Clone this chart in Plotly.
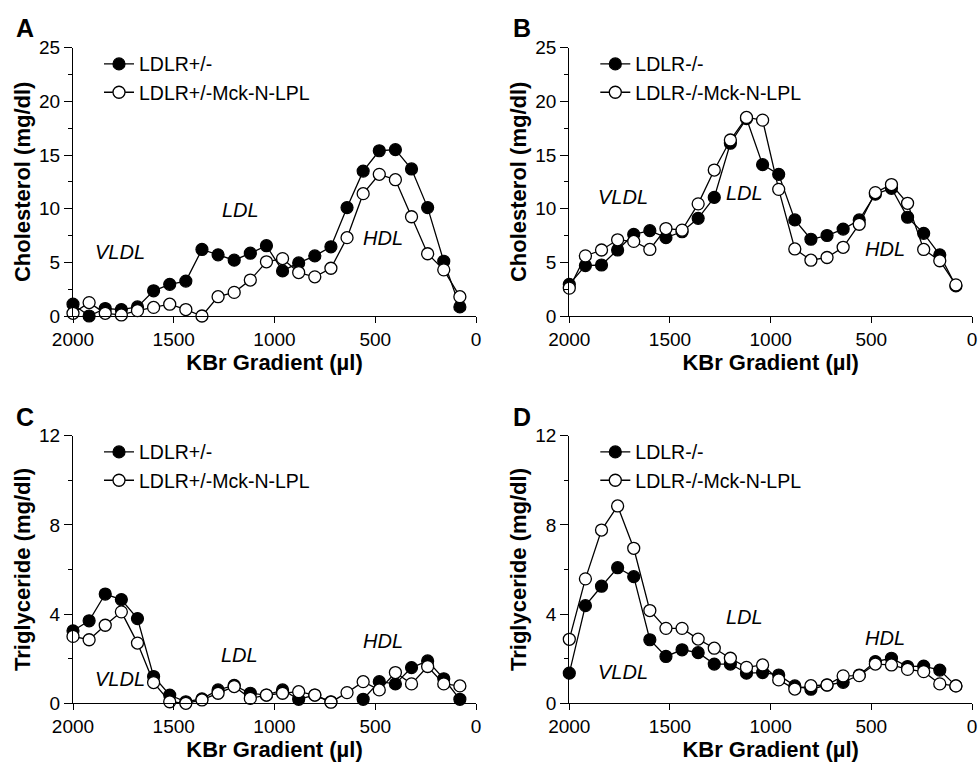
import plotly.graph_objects as go

# ---------------- data ----------------
gradient = [2000, 1920, 1840, 1760, 1680, 1600, 1520, 1440, 1360, 1280, 1200, 1120,
            1040, 960, 880, 800, 720, 640, 560, 480, 400, 320, 240, 160, 80]

chol_het = [1.1, 0.0, 0.7, 0.6, 0.85, 2.35, 2.95, 3.25, 6.2, 5.7, 5.2, 5.85,
            6.55, 4.2, 4.95, 5.6, 6.45, 10.1, 13.5, 15.4, 15.5, 13.7, 10.1, 5.1, 0.85]
chol_het_lpl = [0.25, 1.25, 0.25, 0.1, 0.5, 0.8, 1.1, 0.6, 0.0, 1.8, 2.2, 3.35,
                5.05, 5.35, 4.05, 3.65, 4.45, 7.3, 11.4, 13.2, 12.7, 9.25, 5.8, 4.3, 1.8]

chol_ko = [2.95, 4.7, 4.75, 6.15, 7.6, 7.95, 7.3, 7.85, 9.1, 11.05, 16.1, 18.4,
           14.1, 13.2, 8.95, 7.15, 7.5, 8.1, 8.95, 11.35, 11.9, 9.2, 7.7, 5.7, 2.8]
chol_ko_lpl = [2.6, 5.6, 6.15, 7.1, 6.95, 6.2, 8.15, 8.0, 10.45, 13.6, 16.4, 18.5,
               18.25, 11.8, 6.25, 5.2, 5.45, 6.4, 8.55, 11.5, 12.25, 10.5, 6.2, 5.15, 2.9]

tg_het = [3.25, 3.7, 4.9, 4.65, 3.8, 1.2, 0.37, 0.07, 0.2, 0.6, 0.8, 0.45,
          0.37, 0.6, 0.18, 0.37, 0.07, None, 0.18, 0.97, 0.87, 1.6, 1.9, 1.1, 0.18]
tg_het_lpl = [3.0, 2.85, 3.5, 4.1, 2.7, 0.93, 0.07, 0.0, 0.15, 0.45, 0.75, 0.22,
              0.37, 0.45, 0.52, 0.37, 0.05, 0.48, 0.97, 0.6, 1.38, 0.87, 1.65, 0.87, 0.78]

tg_ko = [1.35, 4.38, 5.25, 6.08, 5.68, 2.85, 2.1, 2.4, 2.27, 1.76, 1.76, 1.35,
         1.38, 1.27, 0.78, 0.63, 0.82, 0.94, 1.27, 1.87, 2.02, 1.65, 1.67, 1.49, 0.78]
tg_ko_lpl = [2.87, 5.58, 7.77, 8.85, 6.95, 4.16, 3.36, 3.36, 2.88, 2.47, 2.02, 1.61,
             1.72, 1.05, 0.64, 0.79, 0.82, 1.23, 1.24, 1.76, 1.72, 1.52, 1.42, 0.87, 0.78]

names_het = ["LDLR+/-", "LDLR+/-Mck-N-LPL"]
names_ko = ["LDLR-/-", "LDLR-/-Mck-N-LPL"]
panel_letters = ["A", "B", "C", "D"]
region_labels = ["VLDL", "LDL", "HDL"]
region_pos_A = [(1767, 5.96), (1171, 9.9), (463, 7.24)]
region_pos_B = [(1732, 11.1), (1128, 11.5), (433, 6.2)]
region_pos_C = [(1765, 1.08), (1172, 2.17), (464, 2.8)]
region_pos_D = [(1732, 1.42), (1128, 3.89), (432, 2.94)]

# ---------------- layout geometry ----------------
W, H = 979, 763
FONT = "Liberation Sans, Arial, Helvetica, sans-serif"

def px_x(p):
    return p / W

def px_y(p):
    return 1 - p / H

panels = [
    dict(xd=[px_x(73), px_x(476)], yd=[px_y(316), px_y(47.7)], yr=[0, 25], dt=5, mdt=2.5,
         title="Cholesterol (mg/dl)", series=(chol_het, chol_het_lpl), names=names_het,
         regions=region_pos_A, letter_xy=(25, 28)),
    dict(xd=[px_x(569.3), px_x(972)], yd=[px_y(316), px_y(47.7)], yr=[0, 25], dt=5, mdt=2.5,
         title="Cholesterol (mg/dl)", series=(chol_ko, chol_ko_lpl), names=names_ko,
         regions=region_pos_B, letter_xy=(522, 28)),
    dict(xd=[px_x(73), px_x(476)], yd=[px_y(703.3), px_y(435.7)], yr=[0, 12], dt=4, mdt=2,
         title="Triglyceride (mg/dl)", series=(tg_het, tg_het_lpl), names=names_het,
         regions=region_pos_C, letter_xy=(25, 417)),
    dict(xd=[px_x(569.3), px_x(972)], yd=[px_y(703.3), px_y(435.7)], yr=[0, 12], dt=4, mdt=2,
         title="Triglyceride (mg/dl)", series=(tg_ko, tg_ko_lpl), names=names_ko,
         regions=region_pos_D, letter_xy=(522, 417)),
]

fig = go.Figure()
annotations = []
layout = {}

for i, p in enumerate(panels):
    n = i + 1
    xa = "x" if n == 1 else f"x{n}"
    ya = "y" if n == 1 else f"y{n}"
    leg = "legend" if n == 1 else f"legend{n}"
    filled, opened = p["series"]
    fig.add_trace(go.Scatter(
        x=gradient, y=filled, name=p["names"][0], mode="lines+markers",
        xaxis=xa, yaxis=ya, legend=leg, cliponaxis=False, connectgaps=False,
        line=dict(color="black", width=1.3),
        marker=dict(symbol="circle", size=12, color="black", line=dict(color="black", width=1.2)),
        legendgroup=f"{n}a",
    ))
    fig.add_trace(go.Scatter(
        x=gradient, y=opened, name=p["names"][1], mode="lines+markers",
        xaxis=xa, yaxis=ya, legend=leg, cliponaxis=False,
        line=dict(color="black", width=1.3),
        marker=dict(symbol="circle", size=12, color="white", line=dict(color="black", width=1.3)),
        legendgroup=f"{n}b",
    ))
    axis_common = dict(showgrid=False, zeroline=False, showline=True, linecolor="black",
                       linewidth=1.3, ticks="outside", tickcolor="black", tickwidth=1.3,
                       automargin=False,
                       tickfont=dict(family=FONT, size=19, color="black"))
    layout["xaxis" if n == 1 else f"xaxis{n}"] = dict(
        domain=p["xd"], anchor=ya, range=[2000, 0], tickmode="array",
        tickvals=[2000, 1500, 1000, 500, 0], ticklen=6,
        title=dict(text="<b>KBr Gradient (µl)</b>", font=dict(family=FONT, size=22, color="black"),
                   standoff=0),
        **axis_common)
    layout["yaxis" if n == 1 else f"yaxis{n}"] = dict(
        domain=p["yd"], anchor=xa, range=p["yr"], dtick=p["dt"], tick0=0, ticklen=8,
        minor=dict(ticks="outside", dtick=p["mdt"], ticklen=4, tickcolor="black", tickwidth=1.3),
        title=dict(text=f"<b>{p['title']}</b>", font=dict(family=FONT, size=22, color="black"),
                   standoff=2),
        **axis_common)
    lx0 = p["xd"][0] * W
    ly0 = (1 - p["yd"][1]) * H
    layout[leg] = dict(
        x=px_x(lx0 + 26), y=px_y(ly0 - 3), xanchor="left", yanchor="top",
        bgcolor="rgba(0,0,0,0)", borderwidth=0, tracegroupgap=0,
        font=dict(family=FONT, size=19.5, color="black"),
    )
    for lab, (rx, ry) in zip(region_labels, p["regions"]):
        annotations.append(dict(
            x=rx, y=ry, xref=xa, yref=ya, text=f"<i>{lab}</i>", showarrow=False,
            font=dict(family=FONT, size=20, color="black"), xanchor="center", yanchor="middle"))
    lx, ly = p["letter_xy"]
    annotations.append(dict(
        x=px_x(lx), y=px_y(ly), xref="paper", yref="paper", text=f"<b>{panel_letters[i]}</b>",
        showarrow=False, font=dict(family=FONT, size=25, color="black"),
        xanchor="center", yanchor="middle"))

fig.update_layout(
    width=W, height=H, margin=dict(l=0, r=0, t=0, b=0, autoexpand=False),
    paper_bgcolor="white", plot_bgcolor="white",
    showlegend=True, annotations=annotations, **layout,
)

fig.write_html(
    "out.html",
    config={"displayModeBar": False},
    post_script="document.body.style.margin='0';document.body.style.overflow='hidden';",
)
